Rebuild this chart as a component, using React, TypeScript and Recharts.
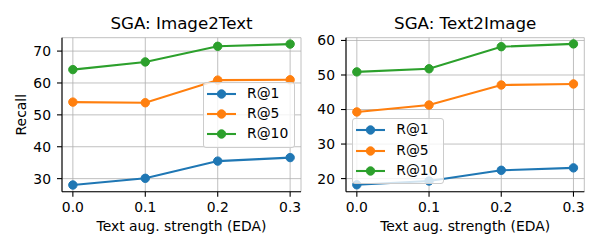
import React from 'react'
import { CartesianGrid, Legend, Line, LineChart, XAxis, YAxis } from 'recharts'

// x values: text augmentation strength (EDA)
const strengths = [0, 0.1, 0.2, 0.3]
const xTicks = [0, 0.1, 0.2, 0.3]

// SGA: Image2Text
const i2tR1 = [28.0, 30.1, 35.5, 36.6]
const i2tR5 = [54.0, 53.8, 60.9, 61.0]
const i2tR10 = [64.2, 66.6, 71.5, 72.2]
const i2tTicks = [30, 40, 50, 60, 70]

// SGA: Text2Image
const t2iR1 = [18.2, 19.3, 22.4, 23.1]
const t2iR5 = [39.3, 41.3, 47.1, 47.4]
const t2iR10 = [50.9, 51.8, 58.2, 59.0]
const t2iTicks = [20, 30, 40, 50, 60]

const seriesNames = ['R@1', 'R@5', 'R@10']
const seriesKeys = ['r1', 'r5', 'r10']
const colors = ['#1f77b4', '#ff7f0e', '#2ca02c']

const font = '"DejaVu Sans", sans-serif'
const xDomain = [-0.015, 0.315]

const makeRows = (r1: number[], r5: number[], r10: number[]) =>
    strengths.map((x, i) => ({ x, r1: r1[i], r5: r5[i], r10: r10[i] }))

const renderLegend = () => (
    <div style={{
        boxSizing: 'border-box', width: '100%', height: '100%',
        border: '1px solid #cccccc', borderRadius: 3, background: 'rgba(255,255,255,0.8)',
        padding: '1px 3px 2px 3px', fontFamily: font
    }}>
        {seriesNames.map((name, i) => (
            <div key={name} style={{ display: 'flex', alignItems: 'center', height: 20.3 }}>
                <svg width={29} height={12} style={{ display: 'block' }}>
                    <line x1={0} y1={6} x2={29} y2={6} stroke={colors[i]} strokeWidth={2.1} />
                    <circle cx={14.5} cy={6} r={4.2} fill={colors[i]} stroke={colors[i]} strokeWidth={1} />
                </svg>
                <span style={{ marginLeft: 11, fontSize: 13.9, lineHeight: 1, color: '#000' }}>{name}</span>
            </div>
        ))}
    </div>
)

type PanelProps = {
    title: string
    rows: any[]
    yDomain: number[]
    yTicks: number[]
    yLabel?: string
    width: number
    yWidth: number
    margin: { top: number, right: number, bottom: number, left: number }
    legendPos: { left: number, top: number }
}

const Panel = (p: PanelProps) => {
    const plotLeft = p.margin.left + p.yWidth
    const plotWidth = p.width - plotLeft - p.margin.right
    return (
        <div style={{ position: 'relative', width: p.width, height: 250 }}>
            <div style={{
                position: 'absolute', left: plotLeft, top: 15.3, width: plotWidth,
                textAlign: 'center', fontSize: 16.7, lineHeight: 1, color: '#000', whiteSpace: 'nowrap'
            }}>
                {p.title}
            </div>
            <LineChart width={p.width} height={250} data={p.rows} margin={p.margin}>
                <CartesianGrid stroke="#b0b0b0" strokeWidth={0.8} />
                <XAxis
                    dataKey="x" type="number" domain={xDomain} ticks={xTicks} allowDataOverflow
                    tickFormatter={(v: number) => v.toFixed(1)}
                    height={40} tickSize={5} tickMargin={5} stroke="#000" strokeWidth={1.1}
                    tick={{ fill: '#000', fontSize: 13.9 }}
                    label={{ value: 'Text aug. strength (EDA)', position: 'insideBottom', offset: 1, fill: '#000', fontSize: 13.9 }}
                />
                <XAxis
                    xAxisId="top" orientation="top" dataKey="x" type="number" domain={xDomain} allowDataOverflow
                    ticks={[]} tick={false} tickLine={false} height={0} stroke="#000" strokeWidth={1.1}
                />
                <YAxis
                    type="number" domain={p.yDomain} ticks={p.yTicks} allowDataOverflow
                    width={p.yWidth} tickSize={5} tickMargin={6} stroke="#000" strokeWidth={1.1}
                    tick={{ fill: '#000', fontSize: 13.9 }}
                    label={p.yLabel ? { value: p.yLabel, angle: -90, position: 'insideLeft', offset: 9.5, fill: '#000', fontSize: 13.9, style: { textAnchor: 'middle' } } : undefined}
                />
                <YAxis yAxisId="right" orientation="right" width={0} tick={false} tickLine={false} stroke="#000" strokeWidth={1.1} />
                {seriesKeys.map((k, i) => (
                    <Line
                        key={k} dataKey={k} name={seriesNames[i]} type="linear"
                        stroke={colors[i]} strokeWidth={2.1}
                        dot={{ r: 4.2, fill: colors[i], stroke: colors[i], strokeWidth: 1 }}
                        activeDot={false} isAnimationActive={false}
                    />
                ))}
                <Legend
                    layout="vertical" align="center" verticalAlign="middle" content={renderLegend}
                    wrapperStyle={{ left: p.legendPos.left, top: p.legendPos.top, width: 92, height: 66 }}
                />
            </LineChart>
        </div>
    )
}

export default function App() {
    return (
        <div style={{ position: 'absolute', left: 0, top: 0, width: 600, height: 250, background: '#fff', fontFamily: font }}>
            <div style={{ position: 'absolute', left: 0, top: 0 }}>
                <Panel
                    title="SGA: Image2Text" rows={makeRows(i2tR1, i2tR5, i2tR10)}
                    yDomain={[25.9, 74.2]} yTicks={i2tTicks} yLabel="Recall"
                    width={310} yWidth={50}
                    margin={{ top: 37.7, right: 9, bottom: 18.3, left: 12 }}
                    legendPos={{ left: 203, top: 81.5 }}
                />
            </div>
            <div style={{ position: 'absolute', left: 310, top: 0 }}>
                <Panel
                    title="SGA: Text2Image" rows={makeRows(t2iR1, t2iR5, t2iR10)}
                    yDomain={[16.2, 60.8]} yTicks={t2iTicks}
                    width={290} yWidth={30}
                    margin={{ top: 37.7, right: 15.7, bottom: 18.3, left: 6 }}
                    legendPos={{ left: 42.3, top: 118.3 }}
                />
            </div>
        </div>
    )
}
